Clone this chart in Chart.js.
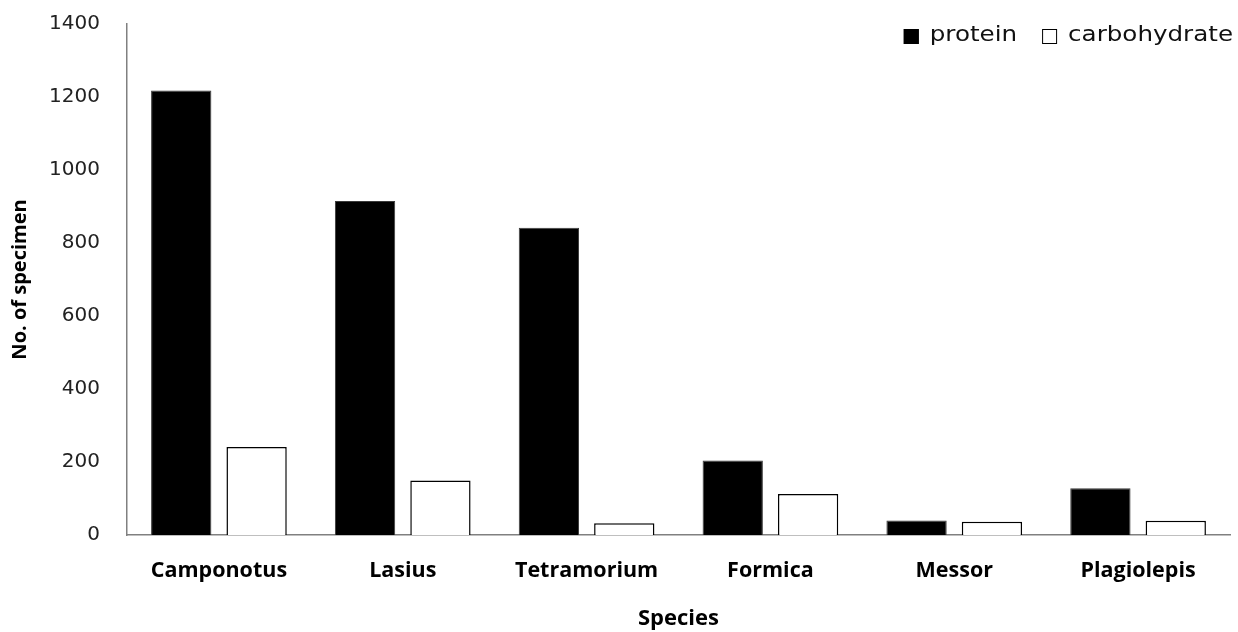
<!DOCTYPE html>
<html>
<head>
<meta charset="utf-8">
<script src="https://cdn.jsdelivr.net/npm/chart.js@4/dist/chart.umd.min.js"></script>
<style>
  html, body { margin: 0; padding: 0; background: #fff; }
  #wrap { width: 1238px; height: 632px; }
</style>
</head>
<body>
<div id="wrap"><canvas id="antChart" width="1238" height="632"></canvas></div>
<script>
// Species and counts
const species = ['Camponotus', 'Lasius', 'Tetramorium', 'Formica', 'Messor', 'Plagiolepis'];
const protein = [1218, 915, 842, 204, 40, 128];
const carbohydrate = [241, 149, 32, 112, 36, 39];
const yTicks = [0, 200, 400, 600, 800, 1000, 1200, 1400];

// Legend drawn inside the plot area, top right (text a bit stretched like the original)
const cornerLegend = {
    id: 'cornerLegend',
    afterDraw(chart) {
        const ctx = chart.ctx;
        const items = chart.data.datasets;
        const sx = 1.17;
        ctx.save();
        ctx.font = '21px "DejaVu Sans"';
        ctx.textBaseline = 'middle';
        let x = 1233;
        const y = 36;
        for (let i = items.length - 1; i >= 0; i--) {
            const ds = items[i];
            const w = ctx.measureText(ds.label).width * sx;
            x -= w;
            ctx.save();
            ctx.translate(x, y);
            ctx.scale(sx, 1);
            ctx.fillStyle = '#111';
            ctx.textAlign = 'left';
            ctx.fillText(ds.label, 0, 0);
            ctx.restore();
            x -= 26;
            ctx.fillStyle = ds.backgroundColor;
            ctx.fillRect(x, y - 7, 15, 15);
            ctx.strokeStyle = '#000';
            ctx.lineWidth = 1;
            ctx.strokeRect(x + 0.5, y - 6.5, 14, 14);
            x -= 25;
        }
        ctx.restore();
    }
};

const ctx = document.getElementById('antChart').getContext('2d');
new Chart(ctx, {
    type: 'bar',
    data: {
        labels: species,
        datasets: [
            {
                label: 'protein',
                data: protein,
                backgroundColor: '#000000',
                borderColor: '#3a3a3a',
                borderWidth: 1
            },
            {
                label: 'carbohydrate',
                data: carbohydrate,
                backgroundColor: '#ffffff',
                borderColor: '#000000',
                borderWidth: 1.5
            }
        ]
    },
    options: {
        responsive: false,
        animation: false,
        categoryPercentage: 0.82,
        barPercentage: 0.8,
        layout: { padding: { left: 8, right: 8, top: 24, bottom: 0 } },
        plugins: {
            legend: { display: false },
            tooltip: { enabled: false }
        },
        scales: {
            x: {
                grid: { display: false },
                border: { display: true, color: '#808080', width: 1.5 },
                ticks: {
                    color: '#000',
                    font: { family: 'Open Sans', size: 21.5, weight: 'bold' },
                    padding: 15,
                    maxRotation: 0
                },
                title: {
                    display: true,
                    text: 'Species',
                    color: '#000',
                    font: { family: 'Open Sans', size: 22, weight: 'bold' },
                    padding: { top: 16, bottom: 0 }
                },
                afterFit(scale) { scale.height = 97; }
            },
            y: {
                min: 0,
                max: 1400,
                grid: { display: false, drawTicks: true, tickLength: 23 },
                border: { display: true, color: '#808080', width: 1.5 },
                afterBuildTicks(scale) {
                    scale.ticks = yTicks.map(v => ({ value: v }));
                },
                ticks: {
                    color: '#222',
                    font: { family: 'DejaVu Sans', size: 20 },
                    padding: 4,
                    callback: v => String(v)
                },
                title: {
                    display: true,
                    text: 'No. of specimen',
                    color: '#000',
                    font: { family: 'Open Sans', size: 20, weight: 'bold' },
                    padding: { top: 0, bottom: 0 }
                },
                afterFit(scale) { scale.width = 119; }
            }
        }
    },
    plugins: [cornerLegend]
});
</script>
</body>
</html>
